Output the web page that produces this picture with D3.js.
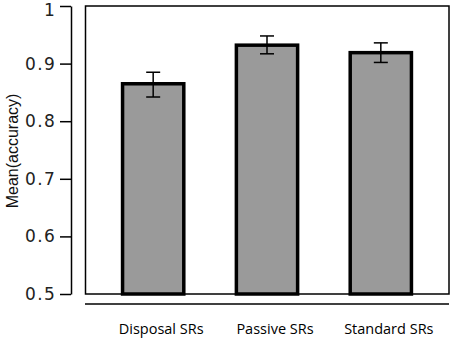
<!DOCTYPE html>
<meta charset="utf-8">
<head>
<style>
body { margin: 0; background: #fff; }
.axis path, .axis line { stroke: #000; stroke-width: 1.5px; }
.bar { fill: #9a9a9a; stroke: #000; stroke-width: 3.5px; }
.err { stroke: #000; stroke-width: 1.5px; fill: none; }
.cat { font-family: "Open Sans", sans-serif; font-size: 14.5px; fill: #000; }
.ylab { font-family: "Liberation Sans", sans-serif; font-size: 16px; fill: #111; }
</style>
</head>
<body>
<svg width="454" height="341"></svg>
<script src="https://cdn.jsdelivr.net/npm/d3@7"></script>
<script>
var categories = ["Disposal SRs", "Passive SRs", "Standard SRs"],
    means = [0.865, 0.932, 0.919],
    lower = [0.842, 0.917, 0.902],
    upper = [0.885, 0.948, 0.936],
    yTicks = [0.5, 0.6, 0.7, 0.8, 0.9, 1];

var svg = d3.select("svg");

var y = d3.scaleLinear()
    .domain([0.5, 1])
    .range([294, 6]);

var x = d3.scaleBand()
    .domain(categories)
    .range([85, 449])
    .paddingInner(0.462)
    .paddingOuter(0.33);

// plot frame
svg.append("rect")
    .attr("x", 85.5).attr("y", y(1))
    .attr("width", 363.5).attr("height", y(0.5) - y(1))
    .attr("fill", "none").attr("stroke", "#000").attr("stroke-width", 1.5);

svg.append("line")
    .attr("x1", 85).attr("x2", 449)
    .attr("y1", 304).attr("y2", 304)
    .attr("stroke", "#000").attr("stroke-width", 1.5);

var yAxis = svg.append("g")
    .attr("class", "axis")
    .attr("transform", "translate(71,0)")
    .call(d3.axisLeft(y).tickValues(yTicks).tickFormat(d3.format("~g")).tickSize(11).tickSizeOuter(0).tickPadding(4));

yAxis.selectAll("text")
    .attr("font-family", "DejaVu Sans, sans-serif")
    .attr("font-size", 17)
    .attr("letter-spacing", "1.3px")
    .attr("fill", "#222")
    .attr("dy", function(d) { return d === 1 ? "0.55em" : "0.32em"; });

svg.selectAll(".bar")
    .data(categories)
  .enter().append("rect")
    .attr("class", "bar")
    .attr("x", function(d) { return x(d); })
    .attr("width", x.bandwidth())
    .attr("y", function(d, i) { return y(means[i]); })
    .attr("height", function(d, i) { return y(0.5) - y(means[i]); });

var err = svg.selectAll(".errg")
    .data(categories)
  .enter().append("g");

err.append("line").attr("class", "err")
    .attr("x1", function(d) { return x(d) + x.bandwidth() / 2; })
    .attr("x2", function(d) { return x(d) + x.bandwidth() / 2; })
    .attr("y1", function(d, i) { return y(lower[i]); })
    .attr("y2", function(d, i) { return y(upper[i]); });

[lower, upper].forEach(function(arr) {
  err.append("line").attr("class", "err")
      .attr("x1", function(d) { return x(d) + x.bandwidth() / 2 - 7; })
      .attr("x2", function(d) { return x(d) + x.bandwidth() / 2 + 7; })
      .attr("y1", function(d, i) { return y(arr[i]); })
      .attr("y2", function(d, i) { return y(arr[i]); });
});

svg.selectAll(".cat")
    .data(categories)
  .enter().append("text")
    .attr("class", "cat")
    .attr("x", function(d) { return x(d) + x.bandwidth() / 2 + 8; })
    .attr("y", 334)
    .attr("text-anchor", "middle")
    .text(function(d) { return d; });

svg.append("text")
    .attr("class", "ylab")
    .attr("transform", "translate(18,151) rotate(-90)")
    .attr("text-anchor", "middle")
    .text("Mean(accuracy)");
</script>
</body>
</html>
